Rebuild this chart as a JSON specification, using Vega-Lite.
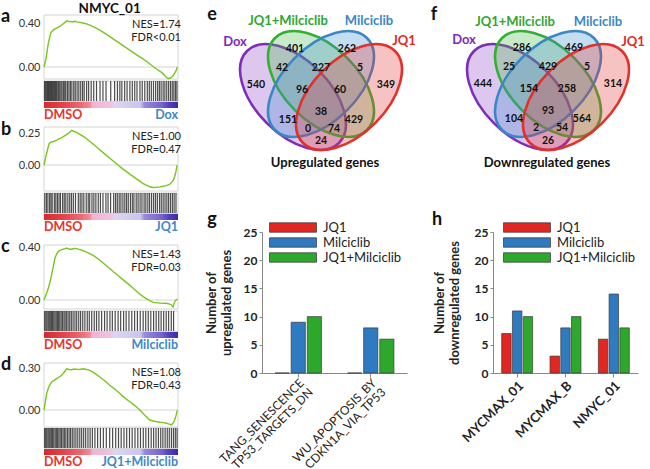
{
"$schema": "https://vega.github.io/schema/vega-lite/v6.json",
"width": 650, "height": 469, "autosize": {"type": "none"}, "padding": 0, "background": "white",
"datasets": {
"vennSets": [{"set":"Dox","cx":-28,"cy":82},{"set":"JQ1+Milciclib","cx":0,"cy":69},{"set":"Milciclib","cx":0,"cy":69},{"set":"JQ1","cx":28,"cy":82}],
"vennNumE": [{"n":"401","vx":-26,"vy":34},{"n":"262","vx":26,"vy":34},{"n":"42","vx":-39,"vy":53},{"n":"227","vx":0,"vy":53},{"n":"5","vx":39,"vy":53},{"n":"540","vx":-65,"vy":70},{"n":"96","vx":-19,"vy":75},{"n":"60","vx":19,"vy":75},{"n":"349","vx":65,"vy":70},{"n":"38","vx":0,"vy":97},{"n":"151","vx":-33,"vy":105},{"n":"429","vx":33,"vy":105},{"n":"0","vx":-13,"vy":114},{"n":"74","vx":13,"vy":114},{"n":"24","vx":0,"vy":126}],
"vennNumF": [{"n":"286","vx":-26,"vy":33},{"n":"469","vx":26,"vy":33},{"n":"25","vx":-39,"vy":52},{"n":"429","vx":0,"vy":52},{"n":"5","vx":39,"vy":52},{"n":"444","vx":-65,"vy":69},{"n":"154","vx":-19,"vy":74},{"n":"258","vx":19,"vy":74},{"n":"314","vx":65,"vy":69},{"n":"93","vx":0,"vy":96},{"n":"104","vx":-34,"vy":104},{"n":"564","vx":34,"vy":104},{"n":"2","vx":-12,"vy":113},{"n":"54","vx":14,"vy":113},{"n":"26","vx":0,"vy":126}],
"vennLabE": [{"lab":"Dox","vx":-86,"vy":27},{"lab":"JQ1+Milciclib","vx":-33,"vy":6},{"lab":"Milciclib","vx":48,"vy":6},{"lab":"JQ1","vx":83,"vy":26}],
"vennLabF": [{"lab":"Dox","vx":-84,"vy":25},{"lab":"JQ1+Milciclib","vx":-33,"vy":7},{"lab":"Milciclib","vx":50,"vy":7},{"lab":"JQ1","vx":85,"vy":27}],
"barsG": [{"cat":"TANG_SENESCENCE TP53_TARGETS_DN","grp":"JQ1","n":0},{"cat":"TANG_SENESCENCE TP53_TARGETS_DN","grp":"Milciclib","n":9},{"cat":"TANG_SENESCENCE TP53_TARGETS_DN","grp":"JQ1+Milciclib","n":10},{"cat":"WU_APOPTOSIS_BY CDKN1A_VIA_TP53","grp":"JQ1","n":0},{"cat":"WU_APOPTOSIS_BY CDKN1A_VIA_TP53","grp":"Milciclib","n":8},{"cat":"WU_APOPTOSIS_BY CDKN1A_VIA_TP53","grp":"JQ1+Milciclib","n":6}],
"barsH": [{"cat":"MYCMAX_01","grp":"JQ1","n":7},{"cat":"MYCMAX_01","grp":"Milciclib","n":11},{"cat":"MYCMAX_01","grp":"JQ1+Milciclib","n":10},{"cat":"MYCMAX_B","grp":"JQ1","n":3},{"cat":"MYCMAX_B","grp":"Milciclib","n":8},{"cat":"MYCMAX_B","grp":"JQ1+Milciclib","n":10},{"cat":"NMYC_01","grp":"JQ1","n":6},{"cat":"NMYC_01","grp":"Milciclib","n":14},{"cat":"NMYC_01","grp":"JQ1+Milciclib","n":8}],
"curveA": [{"t":0,"es":0},{"t":0.015,"es":0.077},{"t":0.032,"es":0.215},{"t":0.05,"es":0.308},{"t":0.07,"es":0.338},{"t":0.09,"es":0.352},{"t":0.107,"es":0.363},{"t":0.125,"es":0.375},{"t":0.144,"es":0.394},{"t":0.16,"es":0.41},{"t":0.172,"es":0.42},{"t":0.185,"es":0.413},{"t":0.2,"es":0.415},{"t":0.215,"es":0.41},{"t":0.228,"es":0.416},{"t":0.245,"es":0.41},{"t":0.268,"es":0.406},{"t":0.29,"es":0.4},{"t":0.318,"es":0.392},{"t":0.342,"es":0.38},{"t":0.367,"es":0.368},{"t":0.392,"es":0.352},{"t":0.417,"es":0.336},{"t":0.455,"es":0.306},{"t":0.491,"es":0.277},{"t":0.53,"es":0.245},{"t":0.566,"es":0.215},{"t":0.6,"es":0.185},{"t":0.64,"es":0.154},{"t":0.68,"es":0.12},{"t":0.715,"es":0.092},{"t":0.74,"es":0.072},{"t":0.764,"es":0.052},{"t":0.79,"es":0.028},{"t":0.814,"es":0.005},{"t":0.84,"es":-0.018},{"t":0.864,"es":-0.037},{"t":0.885,"es":-0.058},{"t":0.901,"es":-0.077},{"t":0.915,"es":-0.095},{"t":0.928,"es":-0.106},{"t":0.943,"es":-0.1},{"t":0.955,"es":-0.088},{"t":0.965,"es":-0.075},{"t":0.975,"es":-0.055},{"t":0.985,"es":-0.035},{"t":0.995,"es":0}],
"curveB": [{"t":0,"es":0},{"t":0.01,"es":0.05},{"t":0.02,"es":0.092},{"t":0.03,"es":0.135},{"t":0.04,"es":0.171},{"t":0.055,"es":0.18},{"t":0.07,"es":0.184},{"t":0.09,"es":0.19},{"t":0.107,"es":0.203},{"t":0.13,"es":0.212},{"t":0.156,"es":0.229},{"t":0.18,"es":0.245},{"t":0.206,"es":0.271},{"t":0.225,"es":0.262},{"t":0.243,"es":0.255},{"t":0.268,"es":0.24},{"t":0.293,"es":0.224},{"t":0.318,"es":0.205},{"t":0.342,"es":0.184},{"t":0.38,"es":0.152},{"t":0.417,"es":0.118},{"t":0.455,"es":0.085},{"t":0.491,"es":0.053},{"t":0.53,"es":0.02},{"t":0.566,"es":-0.013},{"t":0.6,"es":-0.04},{"t":0.64,"es":-0.071},{"t":0.68,"es":-0.1},{"t":0.715,"es":-0.126},{"t":0.74,"es":-0.145},{"t":0.764,"es":-0.158},{"t":0.79,"es":-0.17},{"t":0.814,"es":-0.176},{"t":0.84,"es":-0.174},{"t":0.864,"es":-0.171},{"t":0.89,"es":-0.166},{"t":0.913,"es":-0.161},{"t":0.935,"es":-0.152},{"t":0.95,"es":-0.139},{"t":0.965,"es":-0.118},{"t":0.975,"es":-0.092},{"t":0.985,"es":-0.05},{"t":0.993,"es":0}],
"curveC": [{"t":0,"es":0},{"t":0.015,"es":0.04},{"t":0.032,"es":0.09},{"t":0.045,"es":0.14},{"t":0.057,"es":0.194},{"t":0.07,"es":0.26},{"t":0.082,"es":0.323},{"t":0.095,"es":0.355},{"t":0.107,"es":0.374},{"t":0.12,"es":0.382},{"t":0.132,"es":0.387},{"t":0.15,"es":0.392},{"t":0.169,"es":0.4},{"t":0.188,"es":0.392},{"t":0.206,"es":0.39},{"t":0.225,"es":0.396},{"t":0.243,"es":0.395},{"t":0.268,"es":0.388},{"t":0.293,"es":0.379},{"t":0.33,"es":0.362},{"t":0.367,"es":0.343},{"t":0.405,"es":0.315},{"t":0.442,"es":0.284},{"t":0.48,"es":0.252},{"t":0.516,"es":0.219},{"t":0.555,"es":0.186},{"t":0.591,"es":0.155},{"t":0.63,"es":0.122},{"t":0.665,"es":0.09},{"t":0.7,"es":0.058},{"t":0.74,"es":0.026},{"t":0.775,"es":0.003},{"t":0.814,"es":-0.018},{"t":0.85,"es":-0.022},{"t":0.888,"es":-0.026},{"t":0.915,"es":-0.025},{"t":0.938,"es":-0.031},{"t":0.952,"es":-0.038},{"t":0.963,"es":-0.052},{"t":0.97,"es":-0.03},{"t":0.978,"es":-0.008},{"t":0.995,"es":0.008}],
"curveD": [{"t":0,"es":0},{"t":0.01,"es":0.06},{"t":0.02,"es":0.118},{"t":0.035,"es":0.165},{"t":0.057,"es":0.2},{"t":0.075,"es":0.212},{"t":0.094,"es":0.224},{"t":0.113,"es":0.236},{"t":0.132,"es":0.248},{"t":0.15,"es":0.27},{"t":0.169,"es":0.295},{"t":0.188,"es":0.29},{"t":0.206,"es":0.288},{"t":0.225,"es":0.293},{"t":0.243,"es":0.291},{"t":0.268,"es":0.29},{"t":0.293,"es":0.295},{"t":0.318,"es":0.29},{"t":0.342,"es":0.283},{"t":0.38,"es":0.262},{"t":0.417,"es":0.236},{"t":0.455,"es":0.207},{"t":0.491,"es":0.177},{"t":0.53,"es":0.148},{"t":0.566,"es":0.118},{"t":0.6,"es":0.089},{"t":0.64,"es":0.059},{"t":0.68,"es":0.03},{"t":0.715,"es":0},{"t":0.75,"es":-0.035},{"t":0.789,"es":-0.071},{"t":0.825,"es":-0.08},{"t":0.864,"es":-0.087},{"t":0.89,"es":-0.09},{"t":0.913,"es":-0.094},{"t":0.935,"es":-0.1},{"t":0.95,"es":-0.106},{"t":0.963,"es":-0.095},{"t":0.975,"es":-0.071},{"t":0.985,"es":-0.04},{"t":0.995,"es":0}],
"hitsA": [{"t":0.004},{"t":0.012},{"t":0.02},{"t":0.027},{"t":0.034},{"t":0.041},{"t":0.049},{"t":0.056},{"t":0.063},{"t":0.071},{"t":0.079},{"t":0.086},{"t":0.094},{"t":0.103},{"t":0.11},{"t":0.118},{"t":0.127},{"t":0.135},{"t":0.146},{"t":0.155},{"t":0.163},{"t":0.175},{"t":0.186},{"t":0.197},{"t":0.208},{"t":0.222},{"t":0.233},{"t":0.247},{"t":0.26},{"t":0.274},{"t":0.288},{"t":0.3},{"t":0.318},{"t":0.333},{"t":0.352},{"t":0.371},{"t":0.392},{"t":0.418},{"t":0.44},{"t":0.463},{"t":0.498},{"t":0.527},{"t":0.548},{"t":0.566},{"t":0.581},{"t":0.602},{"t":0.62},{"t":0.641},{"t":0.659},{"t":0.677},{"t":0.694},{"t":0.716},{"t":0.733},{"t":0.752},{"t":0.771},{"t":0.786},{"t":0.801},{"t":0.817},{"t":0.833},{"t":0.848},{"t":0.861},{"t":0.874},{"t":0.889},{"t":0.902},{"t":0.916},{"t":0.93},{"t":0.944},{"t":0.957},{"t":0.969},{"t":0.981},{"t":0.992}],
"hitsB": [{"t":0.006},{"t":0.018},{"t":0.029},{"t":0.042},{"t":0.052},{"t":0.061},{"t":0.077},{"t":0.088},{"t":0.1},{"t":0.112},{"t":0.123},{"t":0.139},{"t":0.151},{"t":0.163},{"t":0.178},{"t":0.192},{"t":0.205},{"t":0.219},{"t":0.235},{"t":0.256},{"t":0.27},{"t":0.283},{"t":0.297},{"t":0.315},{"t":0.33},{"t":0.341},{"t":0.358},{"t":0.372},{"t":0.387},{"t":0.405},{"t":0.421},{"t":0.44},{"t":0.462},{"t":0.478},{"t":0.497},{"t":0.52},{"t":0.534},{"t":0.547},{"t":0.561},{"t":0.574},{"t":0.589},{"t":0.603},{"t":0.616},{"t":0.629},{"t":0.645},{"t":0.659},{"t":0.671},{"t":0.688},{"t":0.702},{"t":0.717},{"t":0.731},{"t":0.747},{"t":0.76},{"t":0.775},{"t":0.788},{"t":0.803},{"t":0.818},{"t":0.832},{"t":0.846},{"t":0.862},{"t":0.875},{"t":0.889},{"t":0.903},{"t":0.917},{"t":0.93},{"t":0.944},{"t":0.958},{"t":0.971},{"t":0.985}],
"hitsC": [{"t":0.005},{"t":0.014},{"t":0.022},{"t":0.031},{"t":0.039},{"t":0.047},{"t":0.056},{"t":0.064},{"t":0.073},{"t":0.082},{"t":0.091},{"t":0.1},{"t":0.109},{"t":0.118},{"t":0.128},{"t":0.138},{"t":0.149},{"t":0.158},{"t":0.169},{"t":0.18},{"t":0.192},{"t":0.204},{"t":0.217},{"t":0.231},{"t":0.244},{"t":0.259},{"t":0.273},{"t":0.289},{"t":0.305},{"t":0.323},{"t":0.338},{"t":0.356},{"t":0.375},{"t":0.392},{"t":0.41},{"t":0.43},{"t":0.452},{"t":0.471},{"t":0.492},{"t":0.51},{"t":0.531},{"t":0.553},{"t":0.572},{"t":0.594},{"t":0.613},{"t":0.634},{"t":0.655},{"t":0.676},{"t":0.697},{"t":0.718},{"t":0.74},{"t":0.759},{"t":0.778},{"t":0.797},{"t":0.818},{"t":0.837},{"t":0.856},{"t":0.874},{"t":0.893},{"t":0.912},{"t":0.93},{"t":0.95},{"t":0.967}],
"hitsD": [{"t":0.005},{"t":0.013},{"t":0.021},{"t":0.03},{"t":0.038},{"t":0.046},{"t":0.055},{"t":0.064},{"t":0.073},{"t":0.083},{"t":0.092},{"t":0.101},{"t":0.111},{"t":0.121},{"t":0.131},{"t":0.142},{"t":0.152},{"t":0.163},{"t":0.175},{"t":0.187},{"t":0.198},{"t":0.211},{"t":0.224},{"t":0.238},{"t":0.252},{"t":0.267},{"t":0.281},{"t":0.296},{"t":0.311},{"t":0.328},{"t":0.344},{"t":0.361},{"t":0.38},{"t":0.4},{"t":0.421},{"t":0.443},{"t":0.465},{"t":0.49},{"t":0.512},{"t":0.535},{"t":0.556},{"t":0.576},{"t":0.597},{"t":0.617},{"t":0.638},{"t":0.658},{"t":0.679},{"t":0.7},{"t":0.72},{"t":0.741},{"t":0.76},{"t":0.78},{"t":0.8},{"t":0.818},{"t":0.836},{"t":0.854},{"t":0.871},{"t":0.887},{"t":0.904},{"t":0.92},{"t":0.935},{"t":0.951},{"t":0.966},{"t":0.98},{"t":0.993}]
},
"layer": [
{"layer": [
  {"data": {"values": [{}]}, "mark": {"type": "rect", "fill": "transparent", "stroke": "#d4d4d4", "strokeWidth": 1},
   "encoding": {"x": {"datum": 0, "type": "quantitative", "scale": {"domain": [0,1], "range": [44,178], "nice": false, "zero": false}, "axis": null}, "x2": {"datum": 1},
    "y": {"datum": -0.109, "type": "quantitative", "scale": {"domain": [-0.109,0.473], "range": [79,15], "nice": false, "zero": false}, "axis": null}, "y2": {"datum": 0.473}}},
  {"data": {"values": [{}]}, "mark": {"type": "rule", "color": "#d4d4d4", "strokeWidth": 1},
   "encoding": {"x": {"datum": 0, "type": "quantitative", "axis": null}, "x2": {"datum": 1}, "y": {"datum": 0, "type": "quantitative", "axis": null}}},
  {"data": {"values": [{"txt": "NES=1.74\nFDR<0.01"}]}, "mark": {"type": "text", "align": "right", "baseline": "top", "fontSize": 11, "lineBreak": "\n", "lineHeight": 13, "color": "#222"},
   "encoding": {"x": {"datum": 1.022, "type": "quantitative", "axis": null}, "y": {"datum": 0.437, "type": "quantitative", "axis": null}, "text": {"field": "txt"}}},
  {"data": {"values": [{"txt": "NMYC_01"}]}, "mark": {"type": "text", "align": "center", "baseline": "middle", "fontSize": 13.5, "fontWeight": "bold", "color": "#111"},
   "encoding": {"x": {"datum": 0.49, "type": "quantitative", "axis": null}, "y": {"datum": 0.532, "type": "quantitative", "axis": null}, "text": {"field": "txt"}}},
  {"data": {"values": [{"txt": "a"}]}, "mark": {"type": "text", "align": "left", "baseline": "middle", "fontSize": 18, "fontWeight": "bold", "color": "#111"},
   "encoding": {"x": {"datum": -0.32, "type": "quantitative", "axis": null}, "y": {"datum": 0.455, "type": "quantitative", "axis": null}, "text": {"field": "txt"}}}
]},
{"data": {"name": "curveA"}, "mark": {"type": "line", "color": "#7CC41F", "strokeWidth": 1.4},
 "encoding": {"x": {"field": "t", "type": "quantitative", "scale": {"domain": [0,1], "range": [44,178], "nice": false, "zero": false}, "axis": null},
  "y": {"field": "es", "type": "quantitative", "scale": {"domain": [-0.109,0.473], "range": [79,15], "nice": false, "zero": false},
   "axis": {"orient": "left", "offset": -44, "values": [0,0.4], "format": ".2f", "labelFontSize": 11, "labelColor": "#333", "labelPadding": 4, "ticks": false, "domain": false, "grid": false, "title": null}}}},
{"layer": [
  {"data": {"values": [{}]}, "mark": {"type": "rect", "fill": "transparent", "stroke": "#d4d4d4", "strokeWidth": 1},
   "encoding": {"x": {"datum": 0, "type": "quantitative", "scale": {"domain": [0,1], "range": [44,178], "nice": false, "zero": false}, "axis": null}, "x2": {"datum": 1},
    "y": {"datum": 0.24, "type": "quantitative", "scale": {"domain": [0,1], "range": [108,81], "nice": false, "zero": false}, "axis": null}, "y2": {"datum": 1}}},
  {"data": {"name": "hitsA"}, "mark": {"type": "rule", "color": "#111", "strokeWidth": 1.2, "opacity": 0.75},
   "encoding": {"x": {"field": "t", "type": "quantitative", "axis": null}, "y": {"datum": 0.26, "type": "quantitative", "axis": null}, "y2": {"datum": 1}}},
  {"data": {"values": [{}]}, "mark": {"type": "rect", "fill": {"gradient": "linear", "x1": 0, "y1": 0, "x2": 1, "y2": 0, "stops": [{"offset": 0, "color": "#D42A2E"}, {"offset": 0.15, "color": "#E2454C"}, {"offset": 0.28, "color": "#EE6A74"}, {"offset": 0.345, "color": "#F28C98"}, {"offset": 0.36, "color": "#F2B2D2"}, {"offset": 0.5, "color": "#F0C2E2"}, {"offset": 0.53, "color": "#DCD6F4"}, {"offset": 0.72, "color": "#CBC4EE"}, {"offset": 0.75, "color": "#9A8ADB"}, {"offset": 0.88, "color": "#7462CC"}, {"offset": 0.93, "color": "#5341BD"}, {"offset": 1, "color": "#3B2AA8"}]}},
   "encoding": {"x": {"datum": 0, "type": "quantitative", "axis": null}, "x2": {"datum": 1}, "y": {"datum": 0, "type": "quantitative", "axis": null}, "y2": {"datum": 0.22}}},
  {"data": {"values": [{"txt": "DMSO"}]}, "mark": {"type": "text", "align": "left", "baseline": "middle", "fontSize": 12.5, "fontWeight": "bold", "color": "#E8332A"},
   "encoding": {"x": {"datum": 0, "type": "quantitative", "axis": null}, "y": {"datum": -0.26, "type": "quantitative", "axis": null}, "text": {"field": "txt"}}},
  {"data": {"values": [{"txt": "Dox"}]}, "mark": {"type": "text", "align": "right", "baseline": "middle", "fontSize": 12.5, "fontWeight": "bold", "color": "#3E87C9"},
   "encoding": {"x": {"datum": 1, "type": "quantitative", "axis": null}, "y": {"datum": -0.26, "type": "quantitative", "axis": null}, "text": {"field": "txt"}}}
]},
{"layer": [
  {"data": {"values": [{}]}, "mark": {"type": "rect", "fill": "transparent", "stroke": "#d4d4d4", "strokeWidth": 1},
   "encoding": {"x": {"datum": 0, "type": "quantitative", "scale": {"domain": [0,1], "range": [44,178], "nice": false, "zero": false}, "axis": null}, "x2": {"datum": 1},
    "y": {"datum": -0.203, "type": "quantitative", "scale": {"domain": [-0.203,0.297], "range": [191,127], "nice": false, "zero": false}, "axis": null}, "y2": {"datum": 0.297}}},
  {"data": {"values": [{}]}, "mark": {"type": "rule", "color": "#d4d4d4", "strokeWidth": 1},
   "encoding": {"x": {"datum": 0, "type": "quantitative", "axis": null}, "x2": {"datum": 1}, "y": {"datum": 0, "type": "quantitative", "axis": null}}},
  {"data": {"values": [{"txt": "NES=1.00\nFDR=0.47"}]}, "mark": {"type": "text", "align": "right", "baseline": "top", "fontSize": 11, "lineBreak": "\n", "lineHeight": 13, "color": "#222"},
   "encoding": {"x": {"datum": 1.022, "type": "quantitative", "axis": null}, "y": {"datum": 0.266, "type": "quantitative", "axis": null}, "text": {"field": "txt"}}},
  {"data": {"values": [{"txt": "b"}]}, "mark": {"type": "text", "align": "left", "baseline": "middle", "fontSize": 18, "fontWeight": "bold", "color": "#111"},
   "encoding": {"x": {"datum": -0.32, "type": "quantitative", "axis": null}, "y": {"datum": 0.274, "type": "quantitative", "axis": null}, "text": {"field": "txt"}}}
]},
{"data": {"name": "curveB"}, "mark": {"type": "line", "color": "#7CC41F", "strokeWidth": 1.4},
 "encoding": {"x": {"field": "t", "type": "quantitative", "scale": {"domain": [0,1], "range": [44,178], "nice": false, "zero": false}, "axis": null},
  "y": {"field": "es", "type": "quantitative", "scale": {"domain": [-0.203,0.297], "range": [191,127], "nice": false, "zero": false},
   "axis": {"orient": "left", "offset": -44, "values": [0,0.25], "format": ".2f", "labelFontSize": 11, "labelColor": "#333", "labelPadding": 4, "ticks": false, "domain": false, "grid": false, "title": null}}}},
{"layer": [
  {"data": {"values": [{}]}, "mark": {"type": "rect", "fill": "transparent", "stroke": "#d4d4d4", "strokeWidth": 1},
   "encoding": {"x": {"datum": 0, "type": "quantitative", "scale": {"domain": [0,1], "range": [44,178], "nice": false, "zero": false}, "axis": null}, "x2": {"datum": 1},
    "y": {"datum": 0.24, "type": "quantitative", "scale": {"domain": [0,1], "range": [220,193], "nice": false, "zero": false}, "axis": null}, "y2": {"datum": 1}}},
  {"data": {"name": "hitsB"}, "mark": {"type": "rule", "color": "#111", "strokeWidth": 1.2, "opacity": 0.75},
   "encoding": {"x": {"field": "t", "type": "quantitative", "axis": null}, "y": {"datum": 0.26, "type": "quantitative", "axis": null}, "y2": {"datum": 1}}},
  {"data": {"values": [{}]}, "mark": {"type": "rect", "fill": {"gradient": "linear", "x1": 0, "y1": 0, "x2": 1, "y2": 0, "stops": [{"offset": 0, "color": "#D42A2E"}, {"offset": 0.15, "color": "#E2454C"}, {"offset": 0.28, "color": "#EE6A74"}, {"offset": 0.345, "color": "#F28C98"}, {"offset": 0.36, "color": "#F2B2D2"}, {"offset": 0.5, "color": "#F0C2E2"}, {"offset": 0.53, "color": "#DCD6F4"}, {"offset": 0.72, "color": "#CBC4EE"}, {"offset": 0.75, "color": "#9A8ADB"}, {"offset": 0.88, "color": "#7462CC"}, {"offset": 0.93, "color": "#5341BD"}, {"offset": 1, "color": "#3B2AA8"}]}},
   "encoding": {"x": {"datum": 0, "type": "quantitative", "axis": null}, "x2": {"datum": 1}, "y": {"datum": 0, "type": "quantitative", "axis": null}, "y2": {"datum": 0.22}}},
  {"data": {"values": [{"txt": "DMSO"}]}, "mark": {"type": "text", "align": "left", "baseline": "middle", "fontSize": 12.5, "fontWeight": "bold", "color": "#E8332A"},
   "encoding": {"x": {"datum": 0, "type": "quantitative", "axis": null}, "y": {"datum": -0.26, "type": "quantitative", "axis": null}, "text": {"field": "txt"}}},
  {"data": {"values": [{"txt": "JQ1"}]}, "mark": {"type": "text", "align": "right", "baseline": "middle", "fontSize": 12.5, "fontWeight": "bold", "color": "#3E87C9"},
   "encoding": {"x": {"datum": 1, "type": "quantitative", "axis": null}, "y": {"datum": -0.26, "type": "quantitative", "axis": null}, "text": {"field": "txt"}}}
]},
{"layer": [
  {"data": {"values": [{}]}, "mark": {"type": "rect", "fill": "transparent", "stroke": "#d4d4d4", "strokeWidth": 1},
   "encoding": {"x": {"datum": 0, "type": "quantitative", "scale": {"domain": [0,1], "range": [44,178], "nice": false, "zero": false}, "axis": null}, "x2": {"datum": 1},
    "y": {"datum": -0.069, "type": "quantitative", "scale": {"domain": [-0.069,0.423], "range": [309,245], "nice": false, "zero": false}, "axis": null}, "y2": {"datum": 0.423}}},
  {"data": {"values": [{}]}, "mark": {"type": "rule", "color": "#d4d4d4", "strokeWidth": 1},
   "encoding": {"x": {"datum": 0, "type": "quantitative", "axis": null}, "x2": {"datum": 1}, "y": {"datum": 0, "type": "quantitative", "axis": null}}},
  {"data": {"values": [{"txt": "NES=1.43\nFDR=0.03"}]}, "mark": {"type": "text", "align": "right", "baseline": "top", "fontSize": 11, "lineBreak": "\n", "lineHeight": 13, "color": "#222"},
   "encoding": {"x": {"datum": 1.022, "type": "quantitative", "axis": null}, "y": {"datum": 0.392, "type": "quantitative", "axis": null}, "text": {"field": "txt"}}},
  {"data": {"values": [{"txt": "c"}]}, "mark": {"type": "text", "align": "left", "baseline": "middle", "fontSize": 18, "fontWeight": "bold", "color": "#111"},
   "encoding": {"x": {"datum": -0.32, "type": "quantitative", "axis": null}, "y": {"datum": 0.408, "type": "quantitative", "axis": null}, "text": {"field": "txt"}}}
]},
{"data": {"name": "curveC"}, "mark": {"type": "line", "color": "#7CC41F", "strokeWidth": 1.4},
 "encoding": {"x": {"field": "t", "type": "quantitative", "scale": {"domain": [0,1], "range": [44,178], "nice": false, "zero": false}, "axis": null},
  "y": {"field": "es", "type": "quantitative", "scale": {"domain": [-0.069,0.423], "range": [309,245], "nice": false, "zero": false},
   "axis": {"orient": "left", "offset": -44, "values": [0,0.4], "format": ".2f", "labelFontSize": 11, "labelColor": "#333", "labelPadding": 4, "ticks": false, "domain": false, "grid": false, "title": null}}}},
{"layer": [
  {"data": {"values": [{}]}, "mark": {"type": "rect", "fill": "transparent", "stroke": "#d4d4d4", "strokeWidth": 1},
   "encoding": {"x": {"datum": 0, "type": "quantitative", "scale": {"domain": [0,1], "range": [44,178], "nice": false, "zero": false}, "axis": null}, "x2": {"datum": 1},
    "y": {"datum": 0.24, "type": "quantitative", "scale": {"domain": [0,1], "range": [338,311], "nice": false, "zero": false}, "axis": null}, "y2": {"datum": 1}}},
  {"data": {"name": "hitsC"}, "mark": {"type": "rule", "color": "#111", "strokeWidth": 1.2, "opacity": 0.75},
   "encoding": {"x": {"field": "t", "type": "quantitative", "axis": null}, "y": {"datum": 0.26, "type": "quantitative", "axis": null}, "y2": {"datum": 1}}},
  {"data": {"values": [{}]}, "mark": {"type": "rect", "fill": {"gradient": "linear", "x1": 0, "y1": 0, "x2": 1, "y2": 0, "stops": [{"offset": 0, "color": "#D42A2E"}, {"offset": 0.15, "color": "#E2454C"}, {"offset": 0.28, "color": "#EE6A74"}, {"offset": 0.345, "color": "#F28C98"}, {"offset": 0.36, "color": "#F2B2D2"}, {"offset": 0.5, "color": "#F0C2E2"}, {"offset": 0.53, "color": "#DCD6F4"}, {"offset": 0.72, "color": "#CBC4EE"}, {"offset": 0.75, "color": "#9A8ADB"}, {"offset": 0.88, "color": "#7462CC"}, {"offset": 0.93, "color": "#5341BD"}, {"offset": 1, "color": "#3B2AA8"}]}},
   "encoding": {"x": {"datum": 0, "type": "quantitative", "axis": null}, "x2": {"datum": 1}, "y": {"datum": 0, "type": "quantitative", "axis": null}, "y2": {"datum": 0.22}}},
  {"data": {"values": [{"txt": "DMSO"}]}, "mark": {"type": "text", "align": "left", "baseline": "middle", "fontSize": 12.5, "fontWeight": "bold", "color": "#E8332A"},
   "encoding": {"x": {"datum": 0, "type": "quantitative", "axis": null}, "y": {"datum": -0.26, "type": "quantitative", "axis": null}, "text": {"field": "txt"}}},
  {"data": {"values": [{"txt": "Milciclib"}]}, "mark": {"type": "text", "align": "right", "baseline": "middle", "fontSize": 12.5, "fontWeight": "bold", "color": "#3E87C9"},
   "encoding": {"x": {"datum": 1, "type": "quantitative", "axis": null}, "y": {"datum": -0.26, "type": "quantitative", "axis": null}, "text": {"field": "txt"}}}
]},
{"layer": [
  {"data": {"values": [{}]}, "mark": {"type": "rect", "fill": "transparent", "stroke": "#d4d4d4", "strokeWidth": 1},
   "encoding": {"x": {"datum": 0, "type": "quantitative", "scale": {"domain": [0,1], "range": [44,178], "nice": false, "zero": false}, "axis": null}, "x2": {"datum": 1},
    "y": {"datum": -0.121, "type": "quantitative", "scale": {"domain": [-0.121,0.336], "range": [427,363], "nice": false, "zero": false}, "axis": null}, "y2": {"datum": 0.336}}},
  {"data": {"values": [{}]}, "mark": {"type": "rule", "color": "#d4d4d4", "strokeWidth": 1},
   "encoding": {"x": {"datum": 0, "type": "quantitative", "axis": null}, "x2": {"datum": 1}, "y": {"datum": 0, "type": "quantitative", "axis": null}}},
  {"data": {"values": [{"txt": "NES=1.08\nFDR=0.43"}]}, "mark": {"type": "text", "align": "right", "baseline": "top", "fontSize": 11, "lineBreak": "\n", "lineHeight": 13, "color": "#222"},
   "encoding": {"x": {"datum": 1.022, "type": "quantitative", "axis": null}, "y": {"datum": 0.307, "type": "quantitative", "axis": null}, "text": {"field": "txt"}}},
  {"data": {"values": [{"txt": "d"}]}, "mark": {"type": "text", "align": "left", "baseline": "middle", "fontSize": 18, "fontWeight": "bold", "color": "#111"},
   "encoding": {"x": {"datum": -0.32, "type": "quantitative", "axis": null}, "y": {"datum": 0.322, "type": "quantitative", "axis": null}, "text": {"field": "txt"}}}
]},
{"data": {"name": "curveD"}, "mark": {"type": "line", "color": "#7CC41F", "strokeWidth": 1.4},
 "encoding": {"x": {"field": "t", "type": "quantitative", "scale": {"domain": [0,1], "range": [44,178], "nice": false, "zero": false}, "axis": null},
  "y": {"field": "es", "type": "quantitative", "scale": {"domain": [-0.121,0.336], "range": [427,363], "nice": false, "zero": false},
   "axis": {"orient": "left", "offset": -44, "values": [0,0.3], "format": ".2f", "labelFontSize": 11, "labelColor": "#333", "labelPadding": 4, "ticks": false, "domain": false, "grid": false, "title": null}}}},
{"layer": [
  {"data": {"values": [{}]}, "mark": {"type": "rect", "fill": "transparent", "stroke": "#d4d4d4", "strokeWidth": 1},
   "encoding": {"x": {"datum": 0, "type": "quantitative", "scale": {"domain": [0,1], "range": [44,178], "nice": false, "zero": false}, "axis": null}, "x2": {"datum": 1},
    "y": {"datum": 0.24, "type": "quantitative", "scale": {"domain": [0,1], "range": [455,428], "nice": false, "zero": false}, "axis": null}, "y2": {"datum": 1}}},
  {"data": {"name": "hitsD"}, "mark": {"type": "rule", "color": "#111", "strokeWidth": 1.2, "opacity": 0.75},
   "encoding": {"x": {"field": "t", "type": "quantitative", "axis": null}, "y": {"datum": 0.26, "type": "quantitative", "axis": null}, "y2": {"datum": 1}}},
  {"data": {"values": [{}]}, "mark": {"type": "rect", "fill": {"gradient": "linear", "x1": 0, "y1": 0, "x2": 1, "y2": 0, "stops": [{"offset": 0, "color": "#D42A2E"}, {"offset": 0.15, "color": "#E2454C"}, {"offset": 0.28, "color": "#EE6A74"}, {"offset": 0.345, "color": "#F28C98"}, {"offset": 0.36, "color": "#F2B2D2"}, {"offset": 0.5, "color": "#F0C2E2"}, {"offset": 0.53, "color": "#DCD6F4"}, {"offset": 0.72, "color": "#CBC4EE"}, {"offset": 0.75, "color": "#9A8ADB"}, {"offset": 0.88, "color": "#7462CC"}, {"offset": 0.93, "color": "#5341BD"}, {"offset": 1, "color": "#3B2AA8"}]}},
   "encoding": {"x": {"datum": 0, "type": "quantitative", "axis": null}, "x2": {"datum": 1}, "y": {"datum": 0, "type": "quantitative", "axis": null}, "y2": {"datum": 0.22}}},
  {"data": {"values": [{"txt": "DMSO"}]}, "mark": {"type": "text", "align": "left", "baseline": "middle", "fontSize": 12.5, "fontWeight": "bold", "color": "#E8332A"},
   "encoding": {"x": {"datum": 0, "type": "quantitative", "axis": null}, "y": {"datum": -0.26, "type": "quantitative", "axis": null}, "text": {"field": "txt"}}},
  {"data": {"values": [{"txt": "JQ1+Milciclib"}]}, "mark": {"type": "text", "align": "right", "baseline": "middle", "fontSize": 12.5, "fontWeight": "bold", "color": "#3E87C9"},
   "encoding": {"x": {"datum": 1, "type": "quantitative", "axis": null}, "y": {"datum": -0.26, "type": "quantitative", "axis": null}, "text": {"field": "txt"}}}
]},
{
 "layer": [
  {"data": {"name": "vennSets"}, "transform": [{"filter": {"field": "set", "oneOf": ["Dox", "JQ1+Milciclib"]}}],
   "mark": {"type": "point", "shape": "M 1 0 C 1 0.3143 0.5523 0.569 0 0.569 C -0.5523 0.569 -1 0.3143 -1 0 C -1 -0.3143 -0.5523 -0.569 0 -0.569 C 0.5523 -0.569 1 -0.3143 1 0 Z", "size": 16900, "angle": 45, "filled": true, "opacity": 1, "fillOpacity": 0.3, "strokeOpacity": 1, "strokeWidth": 2.6},
   "encoding": {"x": {"field": "cx", "type": "quantitative", "scale": {"domain": [-100,100], "range": [221,421], "nice": false, "zero": false}, "axis": null},
    "y": {"field": "cy", "type": "quantitative", "scale": {"domain": [0,190], "range": [15,205], "nice": false, "zero": false}, "axis": null},
    "fill": {"field": "set", "type": "nominal", "scale": {"domain": ["Dox","JQ1+Milciclib","Milciclib","JQ1"], "range": ["#8E44C8","#4CBB4C","#3F8FD2","#E53935"]}, "legend": null},
    "stroke": {"field": "set", "type": "nominal", "scale": {"domain": ["Dox","JQ1+Milciclib","Milciclib","JQ1"], "range": ["#7E2DBB","#33AF33","#3A87C6","#E2302A"]}, "legend": null}}},
  {"data": {"name": "vennSets"}, "transform": [{"filter": {"field": "set", "oneOf": ["Milciclib", "JQ1"]}}],
   "mark": {"type": "point", "shape": "M 1 0 C 1 0.3143 0.5523 0.569 0 0.569 C -0.5523 0.569 -1 0.3143 -1 0 C -1 -0.3143 -0.5523 -0.569 0 -0.569 C 0.5523 -0.569 1 -0.3143 1 0 Z", "size": 16900, "angle": -45, "filled": true, "opacity": 1, "fillOpacity": 0.3, "strokeOpacity": 1, "strokeWidth": 2.6},
   "encoding": {"x": {"field": "cx", "type": "quantitative", "axis": null}, "y": {"field": "cy", "type": "quantitative", "axis": null},
    "fill": {"field": "set", "type": "nominal", "legend": null}, "stroke": {"field": "set", "type": "nominal", "legend": null}}},
  {"data": {"name": "vennNumE"}, "mark": {"type": "text", "fontSize": 10.5, "fontWeight": "bold", "color": "#111", "align": "center", "baseline": "middle"},
   "encoding": {"x": {"field": "vx", "type": "quantitative", "axis": null}, "y": {"field": "vy", "type": "quantitative", "axis": null}, "text": {"field": "n"}}},
  {"data": {"name": "vennLabE"}, "mark": {"type": "text", "fontSize": 13, "fontWeight": "bold", "align": "center", "baseline": "middle"},
   "encoding": {"x": {"field": "vx", "type": "quantitative", "axis": null}, "y": {"field": "vy", "type": "quantitative", "axis": null}, "text": {"field": "lab"},
    "color": {"field": "lab", "type": "nominal", "scale": {"domain": ["Dox","JQ1+Milciclib","Milciclib","JQ1"], "range": ["#7B2CBF","#2FA52F","#3A86C6","#E22B26"]}, "legend": null}}},
  {"data": {"values": [{"txt": "Upregulated genes", "vx": 4, "vy": 148}]}, "mark": {"type": "text", "fontSize": 13, "fontWeight": "bold", "color": "#111", "align": "center", "baseline": "middle"},
   "encoding": {"x": {"field": "vx", "type": "quantitative", "axis": null}, "y": {"field": "vy", "type": "quantitative", "axis": null}, "text": {"field": "txt"}}},
  {"data": {"values": [{"txt": "e", "vx": -109, "vy": 0}, {"txt": "g", "vx": -109, "vy": 205}]}, "mark": {"type": "text", "fontSize": 18, "fontWeight": "bold", "color": "#111", "align": "center", "baseline": "middle"},
   "encoding": {"x": {"field": "vx", "type": "quantitative", "axis": null}, "y": {"field": "vy", "type": "quantitative", "axis": null}, "text": {"field": "txt"}}}
 ]
},
{
 "layer": [
  {"data": {"name": "vennSets"}, "transform": [{"filter": {"field": "set", "oneOf": ["Dox", "JQ1+Milciclib"]}}],
   "mark": {"type": "point", "shape": "M 1 0 C 1 0.3143 0.5523 0.569 0 0.569 C -0.5523 0.569 -1 0.3143 -1 0 C -1 -0.3143 -0.5523 -0.569 0 -0.569 C 0.5523 -0.569 1 -0.3143 1 0 Z", "size": 16900, "angle": 45, "filled": true, "opacity": 1, "fillOpacity": 0.3, "strokeOpacity": 1, "strokeWidth": 2.6},
   "encoding": {"x": {"field": "cx", "type": "quantitative", "scale": {"domain": [-100,100], "range": [448,648], "nice": false, "zero": false}, "axis": null},
    "y": {"field": "cy", "type": "quantitative", "scale": {"domain": [0,190], "range": [15,205], "nice": false, "zero": false}, "axis": null},
    "fill": {"field": "set", "type": "nominal", "scale": {"domain": ["Dox","JQ1+Milciclib","Milciclib","JQ1"], "range": ["#8E44C8","#4CBB4C","#3F8FD2","#E53935"]}, "legend": null},
    "stroke": {"field": "set", "type": "nominal", "scale": {"domain": ["Dox","JQ1+Milciclib","Milciclib","JQ1"], "range": ["#7E2DBB","#33AF33","#3A87C6","#E2302A"]}, "legend": null}}},
  {"data": {"name": "vennSets"}, "transform": [{"filter": {"field": "set", "oneOf": ["Milciclib", "JQ1"]}}],
   "mark": {"type": "point", "shape": "M 1 0 C 1 0.3143 0.5523 0.569 0 0.569 C -0.5523 0.569 -1 0.3143 -1 0 C -1 -0.3143 -0.5523 -0.569 0 -0.569 C 0.5523 -0.569 1 -0.3143 1 0 Z", "size": 16900, "angle": -45, "filled": true, "opacity": 1, "fillOpacity": 0.3, "strokeOpacity": 1, "strokeWidth": 2.6},
   "encoding": {"x": {"field": "cx", "type": "quantitative", "axis": null}, "y": {"field": "cy", "type": "quantitative", "axis": null},
    "fill": {"field": "set", "type": "nominal", "legend": null}, "stroke": {"field": "set", "type": "nominal", "legend": null}}},
  {"data": {"name": "vennNumF"}, "mark": {"type": "text", "fontSize": 10.5, "fontWeight": "bold", "color": "#111", "align": "center", "baseline": "middle"},
   "encoding": {"x": {"field": "vx", "type": "quantitative", "axis": null}, "y": {"field": "vy", "type": "quantitative", "axis": null}, "text": {"field": "n"}}},
  {"data": {"name": "vennLabF"}, "mark": {"type": "text", "fontSize": 13, "fontWeight": "bold", "align": "center", "baseline": "middle"},
   "encoding": {"x": {"field": "vx", "type": "quantitative", "axis": null}, "y": {"field": "vy", "type": "quantitative", "axis": null}, "text": {"field": "lab"},
    "color": {"field": "lab", "type": "nominal", "scale": {"domain": ["Dox","JQ1+Milciclib","Milciclib","JQ1"], "range": ["#7B2CBF","#2FA52F","#3A86C6","#E22B26"]}, "legend": null}}},
  {"data": {"values": [{"txt": "Downregulated genes", "vx": -1, "vy": 148}]}, "mark": {"type": "text", "fontSize": 13, "fontWeight": "bold", "color": "#111", "align": "center", "baseline": "middle"},
   "encoding": {"x": {"field": "vx", "type": "quantitative", "axis": null}, "y": {"field": "vy", "type": "quantitative", "axis": null}, "text": {"field": "txt"}}},
  {"data": {"values": [{"txt": "f", "vx": -114, "vy": 0}, {"txt": "h", "vx": -111, "vy": 205}]}, "mark": {"type": "text", "fontSize": 18, "fontWeight": "bold", "color": "#111", "align": "center", "baseline": "middle"},
   "encoding": {"x": {"field": "vx", "type": "quantitative", "axis": null}, "y": {"field": "vy", "type": "quantitative", "axis": null}, "text": {"field": "txt"}}}
 ]
},
{
 "data": {"name": "barsG"},
 "mark": {"type": "bar", "stroke": "#3a3a3a", "strokeWidth": 0.7},
 "encoding": {
  "x": {"field": "cat", "type": "nominal", "sort": null, "scale": {"range": [262,407], "paddingInner": 0.36, "paddingOuter": 0.18},
   "axis": {"orient": "bottom", "offset": -96, "title": null, "labelAngle": -45, "labelAlign": "right", "labelBaseline": "top", "labelExpr": "split(datum.label, ' ')", "labelFontSize": 12, "labelColor": "#222", "labelLineHeight": 13, "labelPadding": 0, "labelLimit": 300, "tickSize": 4, "tickColor": "#888", "domainColor": "#888", "grid": false}},
  "xOffset": {"field": "grp", "type": "nominal", "scale": {"domain": ["JQ1","Milciclib","JQ1+Milciclib"], "paddingInner": 0.12}},
  "y": {"field": "n", "type": "quantitative", "scale": {"domain": [0,25], "range": [373,232], "nice": false, "zero": false},
   "axis": {"orient": "left", "offset": -262, "values": [0,5,10,15,20,25], "labelFontSize": 12, "labelFontWeight": "bold", "labelColor": "#222", "tickSize": 3, "tickColor": "#888", "domainColor": "#888", "labelPadding": 2, "grid": false, "title": ["Number of", "upregulated genes"], "titleFontSize": 13, "titleFontWeight": "bold", "titleColor": "#222", "titlePadding": 10, "titleLineHeight": 15}},
  "fill": {"field": "grp", "type": "nominal", "scale": {"domain": ["JQ1","Milciclib","JQ1+Milciclib"], "range": ["#E3261F","#2F7AC0","#2DA82D"]},
   "legend": {"orient": "none", "legendX": 269, "legendY": 221, "title": null, "padding": 0, "clipHeight": 13, "symbolType": "M -1 -0.2 L 1 -0.2 L 1 0.2 L -1 0.2 Z", "symbolSize": 2209, "symbolStrokeColor": "#444", "symbolStrokeWidth": 0.8, "symbolOpacity": 1, "labelFontSize": 13, "labelColor": "#222", "labelOffset": 6, "rowPadding": 1}}
 }
},
{
 "data": {"name": "barsH"},
 "mark": {"type": "bar", "stroke": "#3a3a3a", "strokeWidth": 0.7},
 "encoding": {
  "x": {"field": "cat", "type": "nominal", "sort": null, "scale": {"range": [493,638], "paddingInner": 0.36, "paddingOuter": 0.18},
   "axis": {"orient": "bottom", "offset": -96, "title": null, "labelAngle": -45, "labelAlign": "right", "labelBaseline": "top", "labelFontSize": 13, "labelFontWeight": "bold", "labelColor": "#222", "labelPadding": 2, "tickSize": 4, "tickColor": "#888", "domainColor": "#888", "grid": false}},
  "xOffset": {"field": "grp", "type": "nominal", "scale": {"domain": ["JQ1","Milciclib","JQ1+Milciclib"], "paddingInner": 0.12}},
  "y": {"field": "n", "type": "quantitative", "scale": {"domain": [0,25], "range": [373,232], "nice": false, "zero": false},
   "axis": {"orient": "left", "offset": -493, "values": [0,5,10,15,20,25], "labelFontSize": 12, "labelFontWeight": "bold", "labelColor": "#222", "tickSize": 3, "tickColor": "#888", "domainColor": "#888", "labelPadding": 2, "grid": false, "title": ["Number of", "downregulated genes"], "titleFontSize": 13, "titleFontWeight": "bold", "titleColor": "#222", "titlePadding": 13, "titleLineHeight": 15}},
  "fill": {"field": "grp", "type": "nominal", "scale": {"domain": ["JQ1","Milciclib","JQ1+Milciclib"], "range": ["#E3261F","#2F7AC0","#2DA82D"]},
   "legend": {"orient": "none", "legendX": 503, "legendY": 221, "title": null, "padding": 0, "clipHeight": 13, "symbolType": "M -1 -0.2 L 1 -0.2 L 1 0.2 L -1 0.2 Z", "symbolSize": 2209, "symbolStrokeColor": "#444", "symbolStrokeWidth": 0.8, "symbolOpacity": 1, "labelFontSize": 13, "labelColor": "#222", "labelOffset": 6, "rowPadding": 1}}
 }
}
],
"resolve": {"scale": {"x": "independent", "y": "independent", "fill": "independent", "stroke": "independent", "color": "independent", "xOffset": "independent"}},
"config": {"font": "Lato", "view": {"stroke": null}, "text": {"font": "Lato"}, "axis": {"labelFont": "Lato", "titleFont": "Lato"}, "legend": {"labelFont": "Lato", "titleFont": "Lato"}}
}
